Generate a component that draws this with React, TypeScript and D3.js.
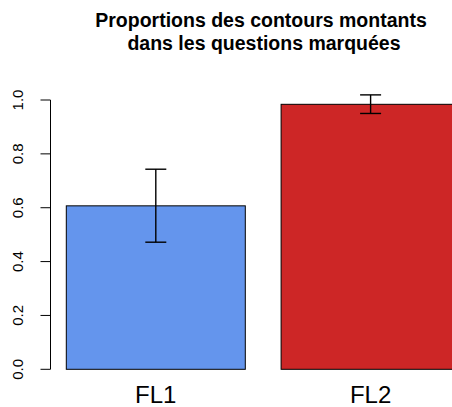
import React, { useRef, useEffect } from 'react';
import * as d3 from 'd3';

// data
const categories = ['FL1', 'FL2'];
const proportions = [0.607, 0.984];
const ciLow = [0.472, 0.95];
const ciHigh = [0.743, 1.019];
const barColors = ['#6495ED', '#CD2626'];
const yTicks = [0, 0.2, 0.4, 0.6, 0.8, 1.0];
const titleLines = ['Proportions des contours montants', 'dans les questions marquées'];

const WIDTH = 452;
const HEIGHT = 407;

const App: React.FC = () => {
  const svgRef = useRef<SVGSVGElement | null>(null);

  useEffect(() => {
    const svg = d3.select(svgRef.current);
    svg.selectAll('*').remove();

    const font = '"Liberation Sans", Arial, Helvetica, sans-serif';

    // scales (barplot: width 1, space 0.2)
    const barW = 179;
    const gap = barW * 0.2;
    const x0 = 66.3;
    const x = d3
      .scaleBand()
      .domain(categories)
      .range([x0, x0 + barW * 2 + gap])
      .paddingInner(gap / (barW + gap))
      .paddingOuter(0);
    const y = d3.scaleLinear().domain([0, 1]).range([369.3, 100]);

    // bars
    svg.append('g')
      .selectAll('rect')
      .data(categories)
      .enter()
      .append('rect')
      .attr('x', (d) => x(d)!)
      .attr('y', (_, i) => y(proportions[i]))
      .attr('width', x.bandwidth())
      .attr('height', (_, i) => y(0) - y(proportions[i]))
      .attr('fill', (_, i) => barColors[i])
      .attr('stroke', '#000')
      .attr('stroke-width', 1);

    // error bars
    const cap = 10.5;
    const eb = svg.append('g').attr('stroke', '#000').attr('stroke-width', 1.4);
    categories.forEach((c, i) => {
      const cx = x(c)! + x.bandwidth() / 2;
      eb.append('line').attr('x1', cx).attr('x2', cx).attr('y1', y(ciLow[i])).attr('y2', y(ciHigh[i]));
      eb.append('line').attr('x1', cx - cap).attr('x2', cx + cap).attr('y1', y(ciLow[i])).attr('y2', y(ciLow[i]));
      eb.append('line').attr('x1', cx - cap).attr('x2', cx + cap).attr('y1', y(ciHigh[i])).attr('y2', y(ciHigh[i]));
    });

    // y axis
    const axisX = 50.5;
    const yAxis = svg.append('g').attr('stroke', '#000').attr('stroke-width', 1);
    yAxis.append('line').attr('x1', axisX).attr('x2', axisX).attr('y1', y(1)).attr('y2', y(0));
    yTicks.forEach((t) => {
      yAxis.append('line').attr('x1', axisX - 10).attr('x2', axisX).attr('y1', y(t)).attr('y2', y(t));
      svg.append('text')
        .attr('transform', `translate(23,${y(t)}) rotate(-90)`)
        .attr('text-anchor', 'middle')
        .attr('font-family', font)
        .attr('font-size', 15)
        .attr('fill', '#000')
        .text(t.toFixed(1));
    });

    // category labels
    svg.append('g')
      .selectAll('text')
      .data(categories)
      .enter()
      .append('text')
      .attr('x', (d) => x(d)! + x.bandwidth() / 2)
      .attr('y', 403)
      .attr('text-anchor', 'middle')
      .attr('font-family', font)
      .attr('font-size', 24)
      .attr('fill', '#000')
      .text((d) => d);

    // title
    const titleX = 261;
    svg.append('g')
      .selectAll('text')
      .data(titleLines)
      .enter()
      .append('text')
      .attr('x', (_, i) => titleX + i * 3)
      .attr('y', (_, i) => 27.3 + i * 22.7)
      .attr('text-anchor', 'middle')
      .attr('font-family', font)
      .attr('font-weight', 'bold')
      .attr('font-size', 19.5)
      .attr('fill', '#000')
      .text((d) => d);
  }, []);

  return (
    <svg
      ref={svgRef}
      width={WIDTH}
      height={HEIGHT}
      style={{ position: 'absolute', left: 0, top: 0, background: '#fff' }}
    />
  );
};

export default App;
